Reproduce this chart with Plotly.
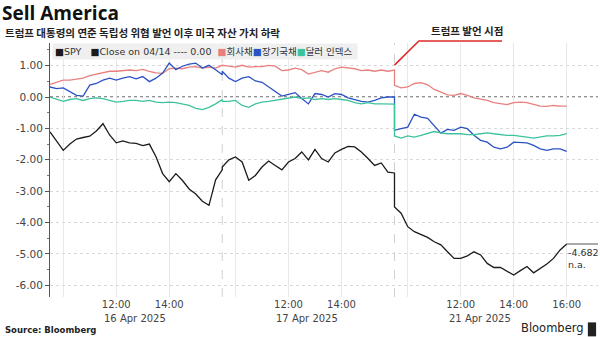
import plotly.graph_objects as go

# ---- data -------------------------------------------------------------
# Trading sessions shown back to back (09:30-16:00, 15-minute samples)
SESSIONS = ["16 Apr 2025", "17 Apr 2025", "21 Apr 2025"]
TIMES = ["09:30", "09:45", "10:00", "10:15", "10:30", "10:45", "11:00",
         "11:15", "11:30", "11:45", "12:00", "12:15", "12:30", "12:45",
         "13:00", "13:15", "13:30", "13:45", "14:00", "14:15", "14:30",
         "14:45", "15:00", "15:15", "15:30", "15:45", "16:00"]

# % change vs. close on 04/14, one block of 27 values per session
SPY = [
    -1.11, -1.40, -1.70, -1.50, -1.34, -1.29, -1.25, -1.08, -0.85, -1.21,
    -1.46, -1.40, -1.46, -1.48, -1.55, -1.50, -1.90, -2.44, -2.70, -2.44,
    -2.66, -2.93, -3.09, -3.32, -3.45, -2.64, -2.32,
    -2.23, -2.00, -1.91, -2.07, -2.65, -2.50, -2.23, -2.04, -2.18, -2.32,
    -2.07, -1.96, -1.75, -2.00, -1.67, -1.96, -2.07, -1.78, -1.67, -1.57,
    -1.59, -1.75, -1.96, -2.18, -2.10, -2.39, -2.42,
    -3.50, -3.70, -4.13, -4.29, -4.39, -4.47, -4.61, -4.71, -4.93, -5.14,
    -5.14, -5.06, -4.93, -5.03, -5.30, -5.43, -5.43, -5.56, -5.67, -5.53,
    -5.40, -5.60, -5.46, -5.32, -5.14, -4.87, -4.682,
]
CORP_BONDS = [
    0.40, 0.47, 0.54, 0.54, 0.58, 0.60, 0.68, 0.73, 0.79, 0.82,
    0.82, 0.84, 0.86, 0.84, 0.88, 0.82, 0.77, 0.75, 0.90, 0.92,
    0.90, 0.95, 0.97, 0.92, 0.95, 0.92, 0.99,
    1.01, 0.98, 0.95, 1.01, 0.95, 0.97, 0.97, 1.01, 0.98, 0.84,
    0.86, 0.92, 0.87, 0.73, 0.79, 0.84, 0.79, 0.90, 0.95, 0.92,
    0.90, 0.84, 0.86, 0.82, 0.86, 0.82, 0.86,
    0.37, 0.29, 0.32, 0.43, 0.46, 0.39, 0.24, 0.16, 0.07, 0.05,
    0.11, 0.05, -0.03, -0.07, -0.11, -0.18, -0.21, -0.24, -0.18, -0.16,
    -0.18, -0.24, -0.29, -0.30, -0.27, -0.29, -0.29,
]
LONG_TREASURIES = [
    0.32, 0.27, 0.29, 0.16, 0.05, 0.03, 0.38, 0.43, 0.54, 0.60,
    0.54, 0.60, 0.65, 0.58, 0.65, 0.49, 0.60, 0.76, 1.08, 0.87,
    0.98, 1.05, 1.08, 0.92, 1.01, 0.87, 0.71,
    0.82, 0.60, 0.49, 0.60, 0.65, 0.51, 0.47, 0.33, 0.18, 0.03,
    0.08, 0.14, -0.05, -0.22, 0.11, 0.08, 0.00, 0.11, 0.08, -0.03,
    -0.08, -0.14, -0.16, -0.11, -0.03, 0.00, 0.00,
    -1.06, -1.01, -0.96, -0.55, -0.64, -0.68, -0.90, -1.15, -1.03, -1.06,
    -0.96, -1.01, -1.22, -1.38, -1.44, -1.60, -1.65, -1.60, -1.44, -1.44,
    -1.46, -1.54, -1.65, -1.70, -1.65, -1.65, -1.73,
]
DOLLAR_INDEX = [
    0.00, -0.08, -0.14, -0.08, -0.05, -0.11, -0.05, -0.03, -0.05, -0.11,
    -0.16, -0.14, -0.11, -0.11, -0.14, -0.11, -0.16, -0.18, -0.16, -0.18,
    -0.22, -0.27, -0.36, -0.40, -0.33, -0.22, -0.08,
    -0.14, -0.14, -0.11, -0.27, -0.33, -0.22, -0.16, -0.14, -0.11, -0.08,
    -0.05, 0.00, -0.05, -0.03, -0.08, -0.05, -0.08, -0.05, -0.08, -0.11,
    -0.18, -0.22, -0.18, -0.22, -0.22, -0.23, -0.23,
    -1.24, -1.31, -1.24, -1.28, -1.22, -1.17, -1.10, -1.14, -1.17, -1.17,
    -1.17, -1.20, -1.20, -1.17, -1.14, -1.17, -1.20, -1.22, -1.22, -1.24,
    -1.28, -1.31, -1.28, -1.24, -1.24, -1.22, -1.17,
]
CLOSE_LEVEL = 0.00
LAST_LABEL = "-4.682"

Y_TICKS = [1, 0, -1, -2, -3, -4, -5, -6]
X_GRID_TIMES = ["10:00", "12:00", "14:00"]
LABELLED_TIMES = ["12:00", "14:00"]
DATE_AT = "12:00"
LAST_TICK = "16:00"
SPEECH_SESSION = 2  # remarks came before the 21 Apr open

SERIES = [
    ("회사채", CORP_BONDS, "#e8807f"),
    ("장기국채", LONG_TREASURIES, "#2b52c4"),
    ("달러 인덱스", DOLLAR_INDEX, "#3cc39d"),
    ("SPY", SPY, "#1b1b1b"),
]

# ---- helpers -----------------------------------------------------------
SESSION_LEN = 6.5  # hours from 09:30 to 16:00


def sx(day, hhmm):
    h, m = hhmm.split(":")
    return day * SESSION_LEN + int(h) + int(m) / 60 - 9.5


x = [sx(d, t) for d in range(len(SESSIONS)) for t in TIMES]

tickvals, ticktext = [], []
for d in range(len(SESSIONS)):
    for t in X_GRID_TIMES:
        tickvals.append(sx(d, t))
        ticktext.append(t if t in LABELLED_TIMES else "")
tickvals.append(sx(len(SESSIONS) - 1, LAST_TICK))
ticktext.append(LAST_TICK)

X_FONT = dict(family="DejaVu Sans", size=10, color="#444444")
Y_FONT = dict(family="DejaVu Sans", size=10.5, color="#444444")

fig = go.Figure()
for name, vals, color in SERIES:
    fig.add_trace(go.Scatter(x=x, y=vals, mode="lines", name=name,
                             line=dict(color=color, width=1.3),
                             hoverinfo="skip"))

x_end = x[-1]
x_max = x_end + 1.18

fig.update_layout(
    width=600, height=337,
    margin=dict(l=50, r=2, t=43, b=40),
    paper_bgcolor="white", plot_bgcolor="white",
    showlegend=False,
    xaxis=dict(range=[0, x_max], tickvals=tickvals, ticktext=ticktext,
               showgrid=True, gridcolor="#e8e8e8", gridwidth=1,
               zeroline=False, showline=False, ticks="",
               tickfont=X_FONT, fixedrange=True),
    yaxis=dict(range=[-6.37, 1.72], tickvals=Y_TICKS,
               ticktext=[f"{v:.2f}" for v in Y_TICKS],
               showgrid=True, gridcolor="#d9d9d9", griddash="dot",
               zeroline=False, showline=True, linecolor="#555555",
               linewidth=1, ticks="outside", ticklen=4, tickcolor="#555555",
               minor=dict(tickvals=[v - 0.5 for v in Y_TICKS] + [1.5],
                          ticks="outside", ticklen=2, tickcolor="#777777",
                          showgrid=False),
               tickfont=Y_FONT, fixedrange=True),
)

# session dates, left-aligned under the midday tick
for d, name in enumerate(SESSIONS):
    fig.add_annotation(x=sx(d, DATE_AT), y=0, xref="x", yref="paper",
                       xanchor="left", yanchor="middle", showarrow=False,
                       xshift=-14, yshift=-21, text=name, font=X_FONT)

# close on 04/14 reference line
fig.add_shape(type="line", xref="x domain", x0=0, x1=1, yref="y",
              y0=CLOSE_LEVEL, y1=CLOSE_LEVEL,
              line=dict(color="#222222", width=1, dash="dot"), layer="below")

# session breaks
for d in range(1, len(SESSIONS)):
    fig.add_shape(type="line", xref="x", x0=d * SESSION_LEN, x1=d * SESSION_LEN,
                  yref="y domain", y0=0, y1=1,
                  line=dict(color="#d0d0d0", width=1, dash="dash"),
                  layer="below")

# last value marker
fig.add_shape(type="line", xref="x", x0=x_end, x1=x_max, yref="y",
              y0=SPY[-1], y1=SPY[-1], line=dict(color="#555555", width=1))
fig.add_annotation(x=x_end, y=SPY[-1], xref="x", yref="y", xanchor="left",
                   yanchor="top", align="left", showarrow=False, xshift=-1,
                   yshift=-1, text=f"{LAST_LABEL}<br>n.a.",
                   font=dict(family="DejaVu Sans", size=9.5, color="#333333"))

# callout for the remarks
speech_x = SPEECH_SESSION * SESSION_LEN
fig.add_shape(type="path", xref="x", yref="paper",
              path=f"M {speech_x},0.913 L {speech_x + 0.92},1.008 "
                   f"L {speech_x + 4.06},1.008",
              line=dict(color="#e02b2b", width=1.6))
fig.add_annotation(x=speech_x + 2.75, y=1.051, xref="x", yref="paper",
                   xanchor="center", yanchor="middle",
                   showarrow=False, text="<b>트럼프 발언 시점</b>",
                   font=dict(family="Noto Sans CJK KR", size=10.5,
                             color="#222222"))

# legend strip
sq = "\u25a0"
nb = "\u00a0"
legend_text = (
    f"<span style='color:#1b1b1b'>{sq}</span>SPY{nb}{nb}{nb}"
    f"<span style='color:#1b1b1b'>{sq}</span>Close on 04/14 ---- 0.00{nb}{nb}"
    f"<span style='color:#e8807f'>{sq}</span>회사채"
    f"<span style='color:#2b52c4'>{sq}</span>장기국채"
    f"<span style='color:#3cc39d'>{sq}</span>달러 인덱스{nb}"
)
fig.add_annotation(x=0, y=1, xref="paper", yref="paper", xanchor="left",
                   yanchor="top", showarrow=False, text=legend_text,
                   bgcolor="#efefef", borderpad=2, xshift=2,
                   font=dict(family="DejaVu Sans, Noto Sans CJK KR", size=9.5,
                             color="#333333"))

# titles and footer
fig.add_annotation(x=0, y=1, xref="paper", yref="paper", xanchor="left",
                   yanchor="middle", showarrow=False, xshift=-50, yshift=30,
                   text="<b>Sell America</b>",
                   font=dict(family="Open Sans", size=19, color="#111111"))
fig.add_annotation(x=0, y=1, xref="paper", yref="paper", xanchor="left",
                   yanchor="middle", showarrow=False, xshift=-47, yshift=11,
                   text="<b>트럼프 대통령의 연준 독립성 위협 발언 이후 미국 자산 가치 하락</b>",
                   font=dict(family="Noto Sans CJK KR", size=10.5, color="#222222"))
fig.add_annotation(x=0, y=0, xref="paper", yref="paper", xanchor="left",
                   yanchor="middle", showarrow=False, xshift=-47, yshift=-33,
                   text="<b>Source: Bloomberg</b>",
                   font=dict(family="DejaVu Sans", size=8.5, color="#222222"))
fig.add_annotation(x=1, y=0, xref="paper", yref="paper", xanchor="right",
                   yanchor="middle", showarrow=False, xshift=-12, yshift=-31,
                   text="Bloomberg",
                   font=dict(family="DejaVu Sans", size=11.5, color="#222222"))
fig.add_shape(type="rect", xref="paper", yref="paper",
              x0=0.9815, x1=0.9965, y0=-0.155, y1=-0.10,
              fillcolor="#222222", line=dict(width=0))

fig.write_html("out.html")
